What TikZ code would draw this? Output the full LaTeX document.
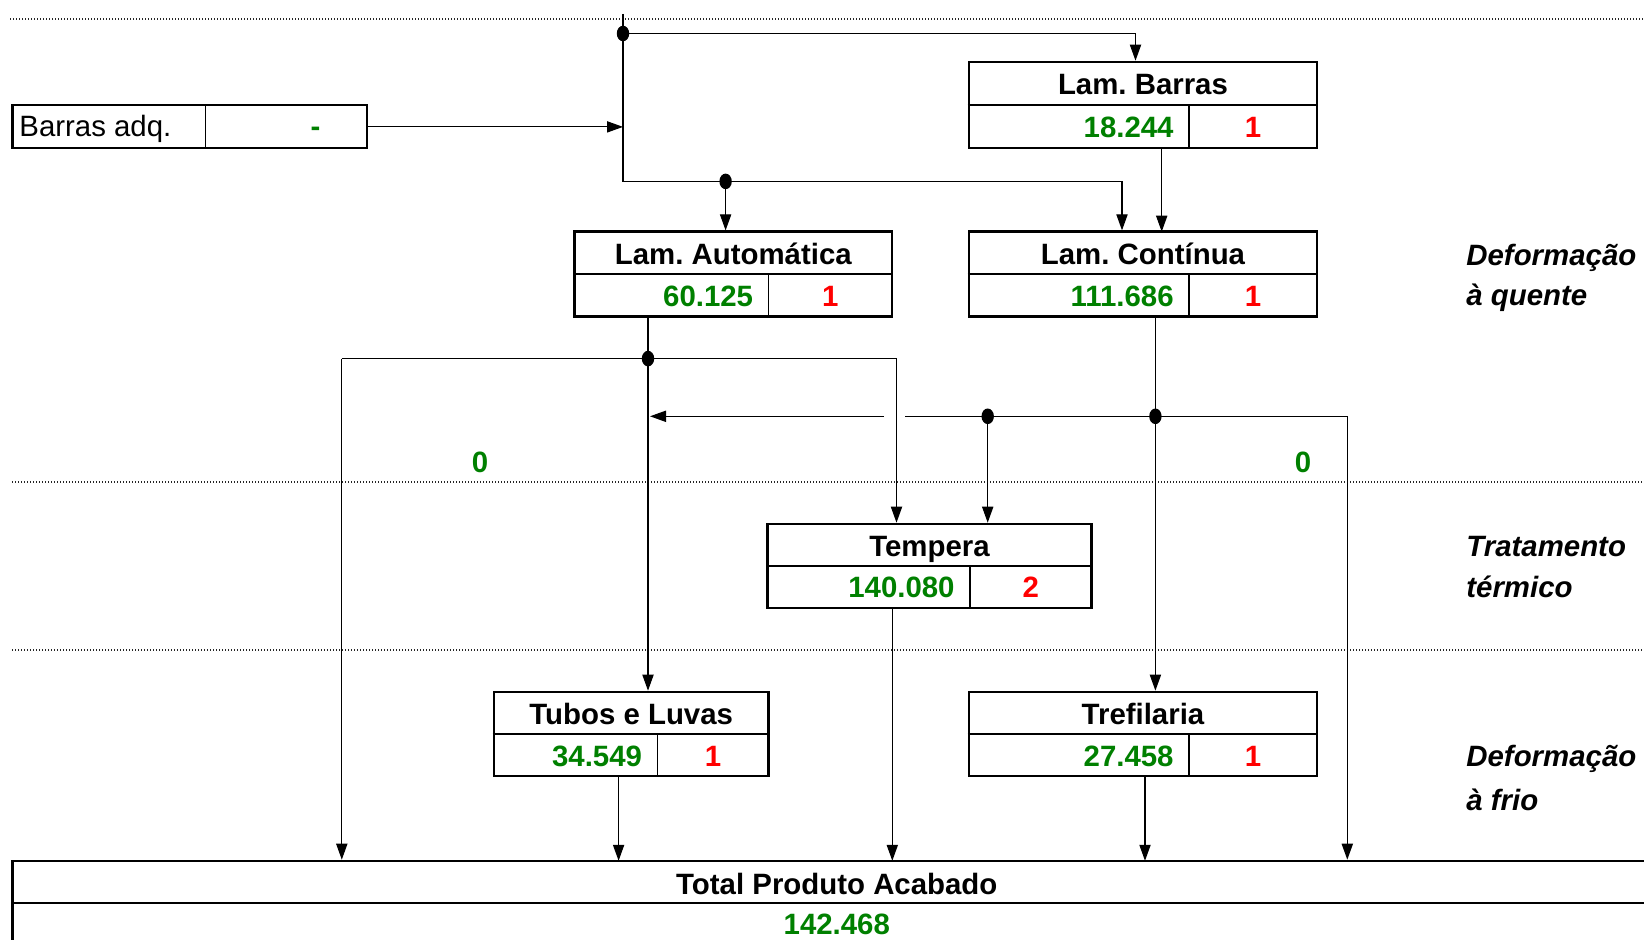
\documentclass[tikz,border=0pt]{standalone}
\usepackage{fontspec}
\setmainfont{Liberation Sans}
\usetikzlibrary{arrows.meta}
\definecolor{xlgreen}{RGB}{0,128,0}
\definecolor{xlred}{RGB}{255,0,0}
\frenchspacing
\tikzset{
  box/.style={draw, line width=1.3pt, inner sep=0pt, rectangle},
  divl/.style={line width=0.7pt},
  conn/.style={line width=0.6pt},
  arr/.style={conn, -{Triangle[length=8pt,width=5.6pt]}},
  dotline/.style={line width=0.6pt, black!85, dash pattern=on 0.7pt off 0.8pt},
  tl/.style={inner sep=0pt, text height=10.5pt, text depth=0pt, font=\fontsize{14.7}{17}\selectfont\bfseries},
  valtxt/.style={tl, text=xlgreen, anchor=east},
  cnttxt/.style={tl, text=xlred},
  plaintxt/.style={inner sep=0pt, text height=10.5pt, text depth=0pt, font=\fontsize{14.7}{17}\selectfont},
  side/.style={inner sep=0pt, anchor=west, text height=10.5pt, text depth=0pt, font=\fontsize{14.7}{17}\selectfont\bfseries\itshape},
  jdot/.style={fill=black}
}
% name, cx, cy, w(px), h(px), vx(px), title, value, count
\newcommand\procbox[9]{%
  \node[box, minimum width=#4*0.5pt, minimum height=#5*0.5pt] (#1) at (#2,#3) {};
  \draw[divl] (#1.west) -- (#1.east);
  \draw[divl] (#6,#3) -- (#6,{#3+#5/2});
  \node[tl] (#1-t) at (#2,{#3-#5/4+0.8}) {#7};
  \node[valtxt] (#1-v) at ({#6-15},{#3+#5/4+0.5}) {#8};
  \node[cnttxt] (#1-c) at ({(#6+#2+#4/2)/2},{#3+#5/4+0.5}) {#9};
}
\begin{document}
\begin{tikzpicture}[x=0.5pt,y=-0.5pt]
\clip (0,0) rectangle (1644,940);
\fill[white] (0,0) rectangle (1644,940);

% dotted separators
\draw[dotline] (10,19) -- (1644,19);
\draw[dotline] (12,482) -- (1644,482);
\draw[dotline] (12,650) -- (1644,650);

% boxes
\procbox{lb}{1143}{105}{348}{86}{1189}{Lam. Barras}{18.244}{1}
\procbox{la}{733.3}{274.2}{317.4}{85}{768.5}{Lam. Automática}{60.125}{1}
\procbox{lc}{1143}{274.2}{348}{85}{1189}{Lam. Contínua}{111.686}{1}
\procbox{te}{929.5}{566}{324}{84}{970}{Tempera}{140.080}{2}
\procbox{tu}{631.2}{734}{274.7}{84}{657.4}{Tubos e Luvas}{34.549}{1}
\procbox{tr}{1143}{734}{348}{84}{1189}{Trefilaria}{27.458}{1}

% Barras adq.
\node[box, minimum width=177.2pt, minimum height=21.5pt] (ba) at (189.8,126.5) {};
\draw[divl] (205.5,105) -- (205.5,148);
\node[plaintxt, anchor=west] (ba-t) at (19,126.5) {Barras adq.};
\node[tl, text=xlgreen] (ba-v) at (315.6,126.5) {-};

% Total
\node[box, minimum width=824.2pt, minimum height=42pt] (tot) at (836.8,903) {};
\draw[divl] (tot.west) -- (tot.east);
\node[tl] (tot-t) at (836.8,883.5) {Total Produto Acabado};
\node[tl, text=xlgreen] (tot-v) at (836.8,924) {142.468};

% side labels
\node[side] (s1a) at (1466,255) {Deformação};
\node[side] (s1b) at (1466,295) {à quente};
\node[side] (s2a) at (1466,546.5) {Tratamento};
\node[side] (s2b) at (1466,587.5) {térmico};
\node[side] (s3a) at (1466,755.5) {Deformação};
\node[side] (s3b) at (1466,799.5) {à frio};

% zero labels
\node[tl, text=xlgreen] (z1) at (480,462.5) {0};
\node[tl, text=xlgreen] (z2) at (1303,462.5) {0};

% coordinates
\coordinate (vtop) at (623,14);
\coordinate (j1) at (623,33.5);
\coordinate (m1) at (623,126.9);
\coordinate (c1) at (623,181.4);
\coordinate (j2) at (725.6,181.4);
\coordinate (c2) at (1122,181.4);
\coordinate (c3) at (1135.5,33.5);
\coordinate (j3) at (648,358.6);
\coordinate (c4) at (341.8,358.6);
\coordinate (c5) at (896.5,358.6);
\coordinate (j4) at (987.7,416.3);
\coordinate (j5) at (1155.4,416.3);
\coordinate (c6) at (1347.3,416.3);
\coordinate (g1) at (905,416.3);
\coordinate (g2) at (884,416.3);
\coordinate (g3) at (650,416.3);

% connectors
\draw[arr] (ba.east |- m1) -- (m1);
\draw[conn] (vtop) -- (c1) -- (c2);
\draw[arr] (c2) -- (c2 |- lc.north);
\draw[conn] (j1) -- (c3);
\draw[arr] (c3) -- (c3 |- lb.north);
\draw[arr] (j2) -- (j2 |- la.north);
\draw[arr] (1161.7,148) -- (1161.7,231.7);
\draw[arr] (j3 |- la.south) -- (j3 |- tu.north);
\draw[conn] (c4) -- (c5);
\draw[arr] (c4) -- (c4 |- tot.north);
\draw[arr] (c5) -- (c5 |- te.north);
\draw[arr] (j5 |- lc.south) -- (j5 |- tr.north);
\draw[conn] (g1) -- (c6);
\draw[arr] (c6) -- (c6 |- tot.north);
\draw[arr] (j4) -- (j4 |- te.north);
\draw[arr] (g2) -- (g3);
\draw[arr] (892.3,608) -- (892.3,860.8);
\draw[arr] (618.6,776) -- (618.6,860.8);
\draw[arr] (1145,776) -- (1145,860.8);

% junction dots
\foreach \j in {j1,j2,j3,j4,j5}
  \fill[jdot] (\j) ellipse [x radius=3.1pt, y radius=3.9pt];
\end{tikzpicture}
\end{document}
